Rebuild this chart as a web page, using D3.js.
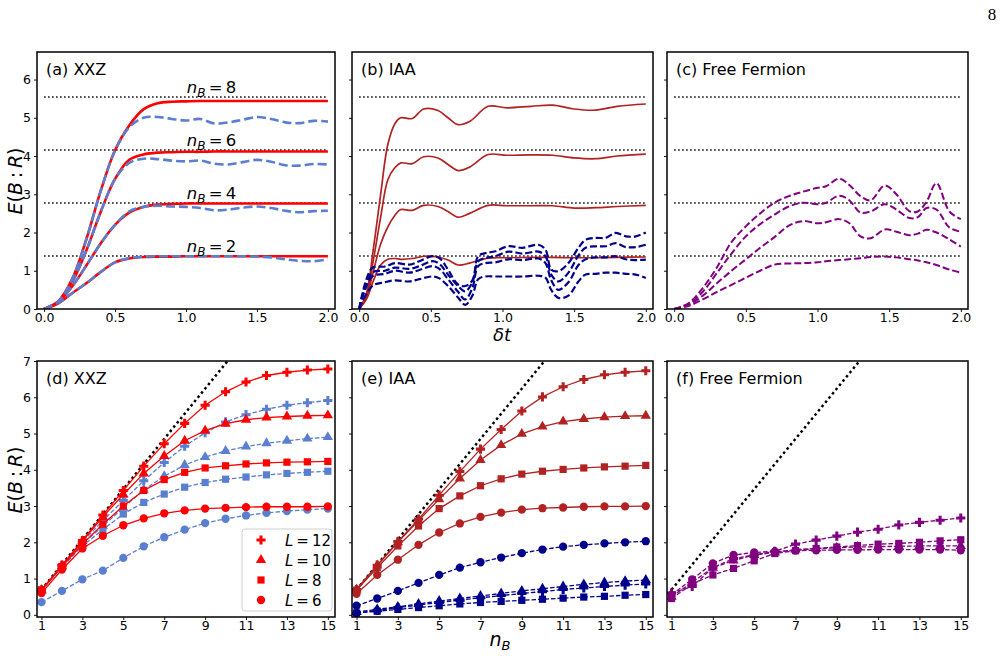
<!DOCTYPE html>
<html>
<head>
<meta charset="utf-8">
<script src="https://cdn.jsdelivr.net/npm/d3@7"></script>
<style>
body { margin: 0; background: #fff; }
svg text { font-family: "DejaVu Sans", sans-serif; fill: #000; }
</style>
</head>
<body>
<script>
// ---- top row: time grids and curves ----
var tA = [0,0.1,0.2,0.3,0.4,0.5,0.6,0.7,0.8,0.9,1.0,1.1,1.2,1.3,1.4,1.5,1.6,1.7,1.8,1.9,2.0];
var xxzRed2 = [0,0.15,0.42,0.68,0.97,1.22,1.32,1.36,1.37,1.37,1.38,1.38,1.38,1.38,1.38,1.38,1.38,1.38,1.38,1.38,1.38];
var xxzRed4 = [0,0.18,0.6,1.15,1.72,2.2,2.52,2.67,2.73,2.75,2.76,2.76,2.76,2.76,2.76,2.76,2.76,2.76,2.76,2.76,2.76];
var xxzRed6 = [0,0.2,0.72,1.55,2.55,3.4,3.9,4.04,4.09,4.1,4.11,4.11,4.12,4.12,4.12,4.12,4.12,4.12,4.12,4.12,4.12];
var xxzRed8 = [0,0.2,0.8,1.85,3.1,4.15,4.8,5.22,5.38,5.42,5.43,5.44,5.44,5.44,5.44,5.44,5.44,5.44,5.44,5.44,5.44];
var xxzBlue2 = [0,0.15,0.42,0.68,0.97,1.22,1.33,1.37,1.38,1.38,1.38,1.38,1.38,1.38,1.38,1.37,1.35,1.3,1.26,1.25,1.3];
var xxzBlue4 = [0,0.18,0.6,1.15,1.72,2.2,2.55,2.67,2.7,2.68,2.67,2.64,2.58,2.6,2.65,2.68,2.64,2.57,2.53,2.56,2.57];
var xxzBlue6 = [0,0.2,0.72,1.55,2.55,3.4,3.82,3.93,3.92,3.88,3.86,3.88,3.8,3.78,3.84,3.9,3.85,3.76,3.75,3.79,3.78];
var xxzBlue8 = [0,0.2,0.8,1.85,3.1,4.15,4.75,5.0,5.02,4.97,4.93,4.97,4.85,4.88,4.95,5.02,4.97,4.88,4.86,4.92,4.9];

var tB = [0,0.05,0.1,0.15,0.2,0.25,0.29,0.37,0.45,0.55,0.62,0.69,0.77,0.9,1.03,1.2,1.35,1.5,1.65,1.8,2.0];
var iaaRed8 = [0,0.4,1.6,3.0,4.3,4.85,5.0,4.98,5.23,5.19,5.0,4.82,4.9,5.3,5.26,5.3,5.33,5.23,5.2,5.3,5.36];
var iaaRed6 = [0,0.35,1.3,2.4,3.38,3.7,3.82,3.8,3.98,3.95,3.78,3.62,3.71,4.04,4.02,4.03,4.02,3.95,3.93,4.0,4.05];
var iaaRed4 = [0,0.3,1.0,1.7,2.15,2.45,2.6,2.58,2.71,2.68,2.55,2.4,2.5,2.71,2.7,2.7,2.7,2.64,2.65,2.68,2.71];
var iaaRed2 = [0,0.25,0.75,1.15,1.3,1.32,1.3,1.32,1.38,1.36,1.28,1.15,1.2,1.33,1.34,1.35,1.35,1.34,1.34,1.35,1.36];

var tB2 = [0,0.09,0.18,0.25,0.35,0.42,0.51,0.56,0.62,0.69,0.74,0.79,0.83,0.88,0.95,1.04,1.14,1.25,1.30,1.34,1.39,1.46,1.53,1.58,1.65,1.72,1.79,1.86,1.93,2.0];
var iaaBlue1 = [0,1.07,1.11,1.2,1.16,1.25,1.38,1.33,1.03,0.64,0.6,0.75,1.38,1.46,1.51,1.64,1.6,1.68,1.55,1.03,0.99,1.2,1.6,1.81,1.86,1.86,1.99,1.9,1.9,2.0];
var iaaBlue2 = [0,0.95,1.0,1.08,1.05,1.12,1.25,1.18,0.9,0.6,0.46,0.7,1.25,1.33,1.38,1.5,1.45,1.5,1.38,0.9,0.72,0.95,1.4,1.6,1.64,1.64,1.72,1.62,1.62,1.68];
var iaaBlue3 = [0,0.85,0.92,1.0,0.95,1.02,1.12,1.05,0.78,0.45,0.25,0.55,1.12,1.2,1.22,1.3,1.28,1.32,1.2,0.75,0.5,0.7,1.15,1.3,1.35,1.35,1.38,1.3,1.28,1.29];
var iaaBlue4 = [0,0.6,0.7,0.75,0.72,0.78,0.85,0.8,0.6,0.3,0.11,0.35,0.78,0.85,0.85,0.85,0.85,0.87,0.82,0.5,0.29,0.35,0.72,0.9,0.92,0.95,0.95,0.92,0.9,0.81];

var tC = [0,0.1,0.2,0.3,0.4,0.5,0.6,0.7,0.8,0.9,1.0,1.06,1.15,1.22,1.3,1.37,1.47,1.55,1.64,1.7,1.76,1.83,1.92,2.0];
var ffTop1 = [0,0.15,0.55,1.1,1.75,2.16,2.5,2.78,2.95,3.07,3.17,3.21,3.41,3.25,2.95,2.84,3.23,3.0,2.56,2.55,2.8,3.29,2.55,2.35];
var ffTop2 = [0,0.13,0.45,0.95,1.45,1.9,2.22,2.47,2.68,2.78,2.74,2.78,2.96,2.85,2.52,2.55,2.74,2.6,2.38,2.4,2.64,2.6,2.13,2.02];
var ffTop3 = [0,0.11,0.35,0.68,1.0,1.3,1.6,1.88,2.18,2.3,2.24,2.27,2.35,2.25,1.9,1.85,2.08,2.02,1.93,1.97,2.07,2.0,1.82,1.63];
var ffTop4 = [0,0.08,0.25,0.45,0.63,0.82,1.0,1.16,1.19,1.2,1.22,1.25,1.28,1.3,1.33,1.36,1.37,1.35,1.3,1.27,1.22,1.15,1.03,0.95];

var nBLevels = [2, 4, 6, 8];

// ---- bottom row: n_B grid and series ----
var nB = [1,2,3,4,5,6,7,8,9,10,11,12,13,14,15];
var xxzR12 = [0.68,1.37,2.05,2.75,3.43,4.1,4.72,5.28,5.78,6.15,6.42,6.6,6.69,6.75,6.78];
var xxzR10 = [0.68,1.35,2.03,2.7,3.32,3.9,4.38,4.8,5.08,5.27,5.38,5.44,5.47,5.49,5.5];
var xxzR8 = [0.69,1.33,1.95,2.5,3.0,3.43,3.73,3.93,4.05,4.11,4.16,4.19,4.21,4.22,4.23];
var xxzR6 = [0.6,1.25,1.83,2.18,2.47,2.66,2.8,2.88,2.93,2.95,2.97,2.98,2.98,2.98,2.99];
var xxzB12 = [0.68,1.35,2.0,2.6,3.15,3.7,4.2,4.65,5.02,5.32,5.52,5.67,5.78,5.85,5.91];
var xxzB10 = [0.68,1.33,1.95,2.45,2.95,3.45,3.82,4.13,4.35,4.52,4.64,4.73,4.8,4.86,4.9];
var xxzB8 = [0.68,1.32,1.9,2.35,2.78,3.1,3.33,3.52,3.65,3.74,3.8,3.86,3.9,3.93,3.96];
var xxzB6 = [0.35,0.66,0.98,1.22,1.57,1.89,2.14,2.35,2.53,2.65,2.74,2.81,2.86,2.9,2.93];

var iaaR12 = [0.7,1.37,2.02,2.64,3.3,3.95,4.57,5.11,5.62,6.01,6.29,6.49,6.62,6.69,6.73];
var iaaR10 = [0.7,1.36,2.0,2.6,3.19,3.76,4.27,4.68,4.99,5.19,5.33,5.4,5.45,5.48,5.49];
var iaaR8 = [0.68,1.3,1.9,2.45,2.93,3.28,3.56,3.75,3.88,3.96,4.01,4.05,4.08,4.1,4.12];
var iaaR6 = [0.58,1.1,1.52,1.93,2.27,2.52,2.7,2.82,2.9,2.94,2.96,2.98,2.99,2.99,3.0];
var iaaB12 = [0.05,0.12,0.2,0.27,0.34,0.41,0.47,0.53,0.59,0.64,0.7,0.74,0.78,0.82,0.85];
var iaaB10 = [0.08,0.15,0.22,0.3,0.38,0.45,0.52,0.59,0.66,0.72,0.78,0.84,0.89,0.93,0.96];
var iaaB8 = [0.05,0.1,0.15,0.2,0.25,0.3,0.34,0.37,0.4,0.43,0.46,0.49,0.51,0.54,0.56];
var iaaB6 = [0.25,0.45,0.66,0.88,1.1,1.3,1.45,1.58,1.7,1.8,1.88,1.93,1.97,2.0,2.03];

var ff12 = [0.6,0.78,1.3,1.55,1.65,1.75,1.95,2.06,2.17,2.28,2.36,2.48,2.55,2.61,2.67];
var ff10 = [0.5,0.9,1.3,1.5,1.65,1.72,1.8,1.83,1.85,1.87,1.88,1.89,1.9,1.9,1.9];
var ff8 = [0.45,0.85,1.1,1.28,1.49,1.69,1.77,1.83,1.87,1.91,1.95,1.97,2.0,2.04,2.07];
var ff6 = [0.55,0.98,1.42,1.65,1.72,1.75,1.77,1.78,1.79,1.79,1.8,1.8,1.8,1.8,1.78];

var legendLabels = ["12", "10", "8", "6"];

// colours
var cRed = "#ff0000", cBlue = "#5a7fd0", cBrick = "#b22222", cNavy = "#00008b", cPurple = "#800080";

var LN2 = Math.log(2);

var svg = d3.select("body").append("svg").attr("width", 1003).attr("height", 660);

var colLeft = [37, 352, 667], colWidth = [298, 301, 301];
var topRow = {y: 52, h: 257}, botRow = {y: 361, h: 256};

function zip(xs, ys) { return xs.map(function(v, i) { return [v, ys[i]]; }); }

//builds one panel: axes, clip, frame; returns scales and the plot group
function panel(id, col, row, xDom, yDom, xTicks, xFmt, yTicks, yLabels, title) {
  var w = colWidth[col], h = row.h;
  var g = svg.append("g").attr("transform", "translate(" + colLeft[col] + "," + row.y + ")");
  var x = d3.scaleLinear().domain(xDom).range([0, w]);
  var y = d3.scaleLinear().domain(yDom).range([h, 0]);

  svg.append("clipPath").attr("id", "clip" + id)
    .append("rect").attr("width", w).attr("height", h);

  var xa = g.append("g").attr("transform", "translate(0," + h + ")")
    .call(d3.axisBottom(x).tickValues(xTicks).tickFormat(xFmt).tickSize(3).tickPadding(1.5));
  var ya = g.append("g")
    .call(d3.axisLeft(y).tickValues(yTicks).tickFormat(yLabels ? d3.format("d") : function() { return ""; }).tickSize(3).tickPadding(3));
  [xa, ya].forEach(function(a) {
    a.select(".domain").remove();
    a.selectAll("text").style("font-size", "12.5px").attr("fill", "#000");
    a.selectAll("line").attr("stroke", "#000").attr("stroke-width", 0.9);
  });

  var plot = g.append("g").attr("clip-path", "url(#clip" + id + ")");

  g.append("text").attr("x", 9).attr("y", 23).style("font-size", "16px").text(title);

  g.append("rect").attr("width", w).attr("height", h)
    .attr("fill", "none").attr("stroke", "#000").attr("stroke-width", 1.5);

  return {g: g, plot: plot, x: x, y: y};
}

function curve(p, xs, ys, color, width, dash) {
  var line = d3.line().x(function(d) { return p.x(d[0]); }).y(function(d) { return p.y(d[1]); })
    .curve(d3.curveCatmullRom);
  p.plot.append("path").datum(zip(xs, ys))
    .attr("d", line).attr("fill", "none")
    .attr("stroke", color).attr("stroke-width", width)
    .attr("stroke-dasharray", dash || null);
}

function levels(p) {
  nBLevels.forEach(function(n) {
    p.plot.append("line")
      .attr("x1", p.x(0)).attr("x2", p.x(2))
      .attr("y1", p.y(n * LN2)).attr("y2", p.y(n * LN2))
      .attr("stroke", "#000").attr("stroke-width", 1.5).attr("stroke-dasharray", "1.5,2.5");
  });
}

var topX = [-0.05, 2.05], topY = [0, 6.72];
var topTicks = [0, 0.5, 1, 1.5, 2], fmt1 = d3.format(".1f");

// (a)
var pa = panel("a", 0, topRow, topX, topY, topTicks, fmt1, [0,1,2,3,4,5,6], true, "(a) XXZ");
levels(pa);
[[xxzBlue2, xxzRed2], [xxzBlue4, xxzRed4], [xxzBlue6, xxzRed6], [xxzBlue8, xxzRed8]].forEach(function(pair) {
  curve(pa, tA, pair[1], cRed, 2.6);
  curve(pa, tA, pair[0], cBlue, 2.6, "9,4");
});
nBLevels.forEach(function(n) {
  var t = pa.g.append("text").attr("x", pa.x(1.18)).attr("y", pa.y(n * LN2) - 4)
    .attr("text-anchor", "middle").style("font-size", "16.5px");
  t.append("tspan").attr("font-style", "italic").text("n");
  t.append("tspan").attr("font-style", "italic").attr("dy", 4).style("font-size", "12px").text("B");
  t.append("tspan").attr("dy", -4).text("\u2009=\u2009" + n);
});

// (b)
var pb = panel("b", 1, topRow, topX, topY, topTicks, fmt1, [0,1,2,3,4,5,6], false, "(b) IAA");
levels(pb);
[iaaRed2, iaaRed4, iaaRed6, iaaRed8].forEach(function(s) { curve(pb, tB, s, cBrick, 1.7); });
[iaaBlue1, iaaBlue2, iaaBlue3, iaaBlue4].forEach(function(s) { curve(pb, tB2, s, cNavy, 2.2, "7,3"); });

// (c)
var pc = panel("c", 2, topRow, topX, topY, topTicks, fmt1, [0,1,2,3,4,5,6], false, "(c) Free Fermion");
levels(pc);
[ffTop1, ffTop2, ffTop3, ffTop4].forEach(function(s) { curve(pc, tC, s, cPurple, 2, "7,3"); });

// bottom row
var botX = [0.78, 15.35], botY = [-0.06, 7];
var botTicks = [1,3,5,7,9,11,13,15], fmtD = d3.format("d");
var shapes = [d3.symbolCross, d3.symbolTriangle, d3.symbolSquare, d3.symbolCircle];
var sizes = [46, 46, 52, 54];

function series(p, ys, color, shapeIdx, dash) {
  var line = d3.line().x(function(d) { return p.x(d[0]); }).y(function(d) { return p.y(d[1]); });
  var pts = zip(nB, ys);
  p.plot.append("path").datum(pts).attr("d", line).attr("fill", "none")
    .attr("stroke", color).attr("stroke-width", 1.3).attr("stroke-dasharray", dash ? "4.5,2" : null);
  p.plot.selectAll(null).data(pts).enter().append("path")
    .attr("transform", function(d) { return "translate(" + p.x(d[0]) + "," + p.y(d[1]) + ")"; })
    .attr("d", d3.symbol().type(shapes[shapeIdx]).size(sizes[shapeIdx]))
    .attr("fill", color);
}

function diag(p) {
  p.plot.append("line")
    .attr("x1", p.x(1)).attr("y1", p.y(LN2))
    .attr("x2", p.x(15)).attr("y2", p.y(15 * LN2))
    .attr("stroke", "#000").attr("stroke-width", 2.5).attr("stroke-dasharray", "2.5,3");
}

// (d)
var pd = panel("d", 0, botRow, botX, botY, botTicks, fmtD, [0,1,2,3,4,5,6,7], true, "(d) XXZ");
diag(pd);
[xxzB12, xxzB10, xxzB8, xxzB6].forEach(function(s, i) { series(pd, s, cBlue, i, true); });
[xxzR12, xxzR10, xxzR8, xxzR6].forEach(function(s, i) { series(pd, s, cRed, i, false); });

// legend
var lg = pd.g.append("g").attr("transform", "translate(205,168)");
lg.append("rect").attr("width", 90).attr("height", 82).attr("rx", 3)
  .attr("fill", "#fff").attr("stroke", "#d0d0d0").attr("stroke-width", 1);
legendLabels.forEach(function(lab, i) {
  var yy = 11 + i * 20;
  lg.append("path").attr("transform", "translate(19," + yy + ")")
    .attr("d", d3.symbol().type(shapes[i]).size(sizes[i])).attr("fill", cRed);
  var t = lg.append("text").attr("x", 43).attr("y", yy + 5.5).style("font-size", "15px");
  t.append("tspan").attr("font-style", "italic").text("L");
  t.append("tspan").text("\u2009=\u2009" + lab);
});

// (e)
var pe = panel("e", 1, botRow, botX, botY, botTicks, fmtD, [0,1,2,3,4,5,6,7], false, "(e) IAA");
diag(pe);
[iaaR12, iaaR10, iaaR8, iaaR6].forEach(function(s, i) { series(pe, s, cBrick, i, false); });
[iaaB12, iaaB10, iaaB8, iaaB6].forEach(function(s, i) { series(pe, s, cNavy, i, true); });

// (f)
var pf = panel("f", 2, botRow, botX, botY, botTicks, fmtD, [0,1,2,3,4,5,6,7], false, "(f) Free Fermion");
diag(pf);
[ff12, ff10, ff8, ff6].forEach(function(s, i) { series(pf, s, cPurple, i, true); });

// axis labels
function eLabel(cy) {
  var t = svg.append("text").attr("transform", "translate(22," + cy + ") rotate(-90)")
    .attr("text-anchor", "middle").style("font-size", "19px");
  t.append("tspan").attr("font-style", "italic").text("E");
  t.append("tspan").text("(");
  t.append("tspan").attr("font-style", "italic").text("B");
  t.append("tspan").text("\u2009:\u2009");
  t.append("tspan").attr("font-style", "italic").text("R");
  t.append("tspan").text(")");
}
eLabel(181);
eLabel(480);

svg.append("text").attr("x", 502).attr("y", 341).attr("text-anchor", "middle")
  .style("font-size", "18px").attr("font-style", "italic").text("δt");

var nl = svg.append("text").attr("x", 500).attr("y", 646).attr("text-anchor", "middle").style("font-size", "19px");
nl.append("tspan").attr("font-style", "italic").text("n");
nl.append("tspan").attr("font-style", "italic").attr("dy", 4).style("font-size", "13px").text("B");

// page number
svg.append("text").attr("x", 992).attr("y", 20).attr("text-anchor", "middle")
  .style("font-family", "'Liberation Serif', 'DejaVu Serif', serif").style("font-size", "17px").text("8");
</script>
</body>
</html>
